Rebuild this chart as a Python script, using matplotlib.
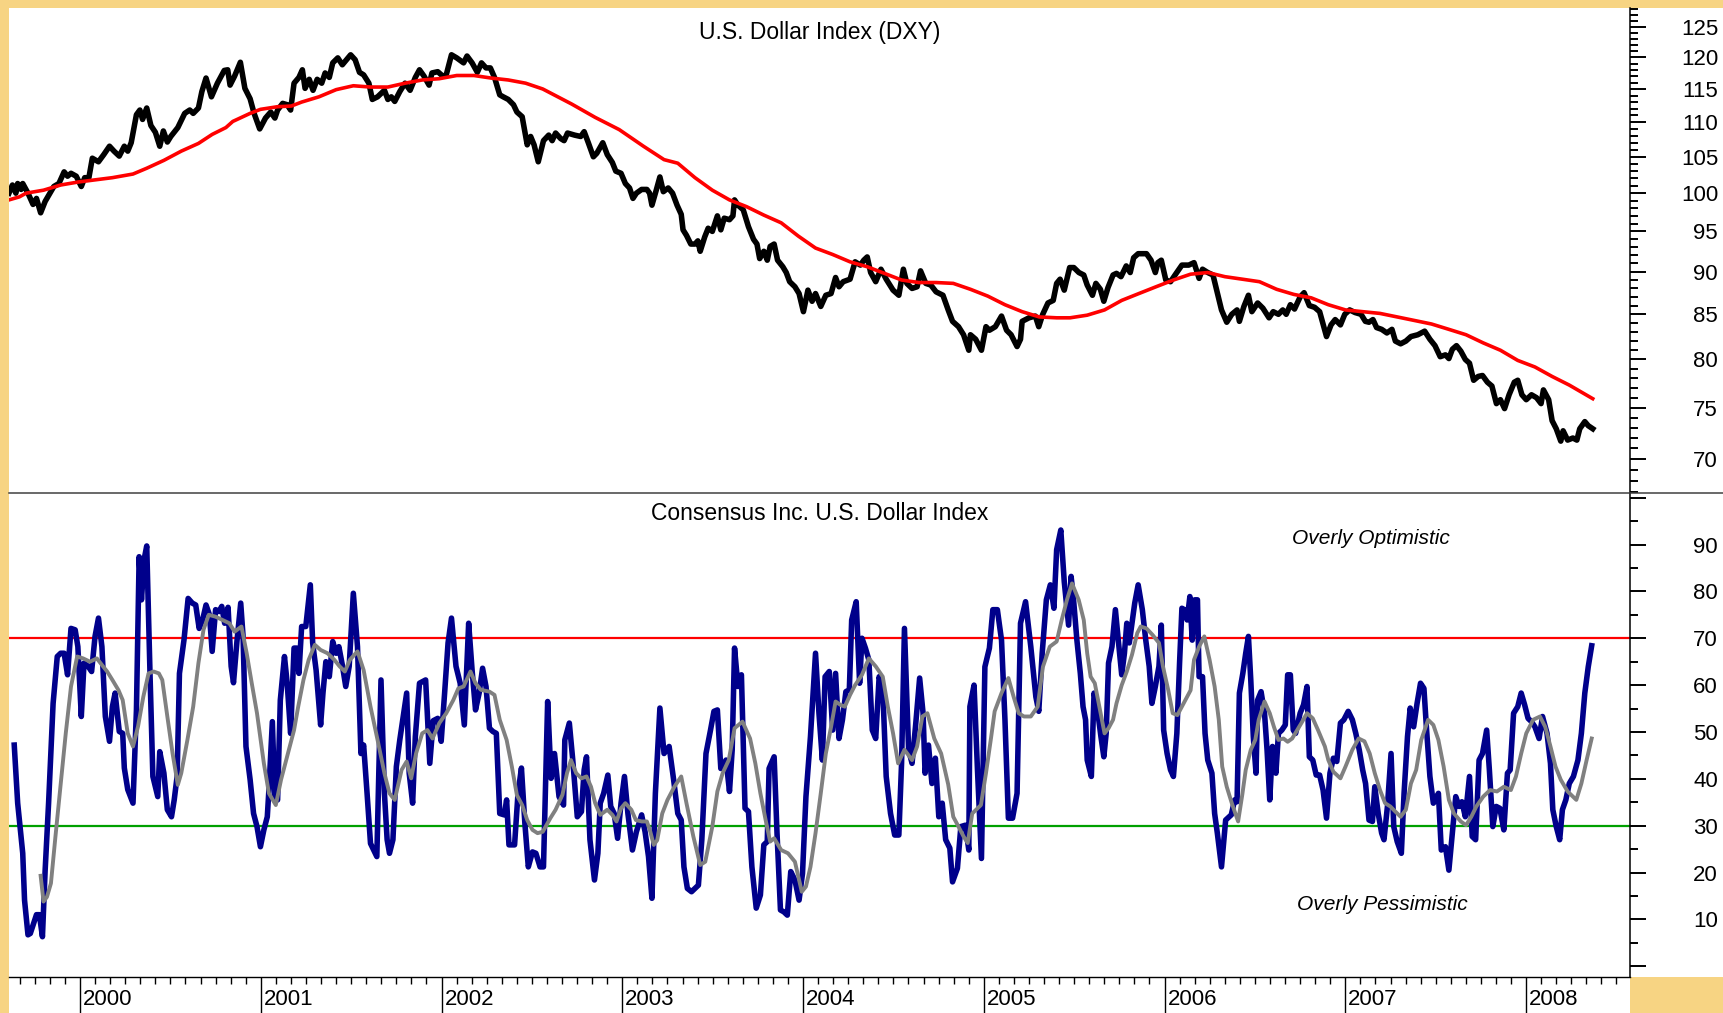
import matplotlib
matplotlib.use("Agg")
import matplotlib.pyplot as plt
from matplotlib.patches import Rectangle
from matplotlib.lines import Line2D
from matplotlib.ticker import NullFormatter
from matplotlib.transforms import blended_transform_factory

plt.rcParams['font.family'] = ['Liberation Sans', 'DejaVu Sans']

# ---- data (decimal years) ----
dxy_t = [
    1999.607, 1999.626, 1999.645, 1999.655, 1999.674, 1999.683, 1999.712, 1999.740, 1999.759, 1999.782,
    1999.807, 1999.855, 1999.883, 1999.912, 1999.931, 1999.950, 1999.979, 2000.007, 2000.026, 2000.049,
    2000.068, 2000.102, 2000.131, 2000.163, 2000.188, 2000.217, 2000.245, 2000.264, 2000.283, 2000.312,
    2000.331, 2000.346, 2000.369, 2000.392, 2000.417, 2000.441, 2000.461, 2000.483, 2000.502, 2000.541,
    2000.579, 2000.607, 2000.626, 2000.655, 2000.674, 2000.697, 2000.727, 2000.760, 2000.798, 2000.817,
    2000.830, 2000.855, 2000.887, 2000.912, 2000.941, 2000.963, 2000.994, 2001.026, 2001.055, 2001.078,
    2001.093, 2001.121, 2001.146, 2001.165, 2001.184, 2001.211, 2001.230, 2001.245, 2001.268, 2001.289,
    2001.312, 2001.337, 2001.356, 2001.379, 2001.398, 2001.426, 2001.451, 2001.474, 2001.497, 2001.522,
    2001.546, 2001.569, 2001.598, 2001.617, 2001.646, 2001.665, 2001.684, 2001.703, 2001.722, 2001.741,
    2001.769, 2001.798, 2001.826, 2001.855, 2001.878, 2001.903, 2001.931, 2001.947, 2001.979, 2002.007,
    2002.026, 2002.055, 2002.084, 2002.122, 2002.141, 2002.169, 2002.198, 2002.221, 2002.246, 2002.270,
    2002.293, 2002.322, 2002.341, 2002.369, 2002.398, 2002.417, 2002.446, 2002.474, 2002.493, 2002.512,
    2002.535, 2002.564, 2002.593, 2002.612, 2002.631, 2002.659, 2002.678, 2002.697, 2002.736, 2002.770,
    2002.789, 2002.812, 2002.840, 2002.859, 2002.892, 2002.917, 2002.945, 2002.964, 2002.993, 2003.017,
    2003.040, 2003.059, 2003.078, 2003.107, 2003.136, 2003.151, 2003.164, 2003.189, 2003.208, 2003.227,
    2003.254, 2003.278, 2003.303, 2003.326, 2003.336, 2003.355, 2003.379, 2003.402, 2003.418, 2003.431,
    2003.456, 2003.475, 2003.498, 2003.526, 2003.545, 2003.564, 2003.593, 2003.612, 2003.621, 2003.640,
    2003.669, 2003.698, 2003.726, 2003.745, 2003.760, 2003.783, 2003.802, 2003.818, 2003.840, 2003.859,
    2003.888, 2003.907, 2003.926, 2003.955, 2003.978, 2004.002, 2004.027, 2004.050, 2004.069, 2004.098,
    2004.126, 2004.155, 2004.180, 2004.199, 2004.222, 2004.260, 2004.288, 2004.317, 2004.336, 2004.355,
    2004.374, 2004.402, 2004.431, 2004.460, 2004.498, 2004.530, 2004.555, 2004.574, 2004.603, 2004.631,
    2004.650, 2004.679, 2004.707, 2004.736, 2004.774, 2004.803, 2004.827, 2004.860, 2004.888, 2004.917,
    2004.926, 2004.955, 2004.987, 2005.012, 2005.031, 2005.064, 2005.098, 2005.126, 2005.151, 2005.184,
    2005.203, 2005.212, 2005.250, 2005.285, 2005.304, 2005.326, 2005.355, 2005.384, 2005.403, 2005.422,
    2005.445, 2005.475, 2005.498, 2005.526, 2005.553, 2005.572, 2005.601, 2005.620, 2005.645, 2005.664,
    2005.687, 2005.715, 2005.734, 2005.759, 2005.788, 2005.810, 2005.829, 2005.854, 2005.900, 2005.925,
    2005.949, 2005.963, 2005.982, 2006.007, 2006.033, 2006.058, 2006.096, 2006.134, 2006.163, 2006.191,
    2006.210, 2006.239, 2006.268, 2006.287, 2006.315, 2006.344, 2006.372, 2006.401, 2006.414, 2006.439,
    2006.464, 2006.483, 2006.515, 2006.544, 2006.578, 2006.601, 2006.630, 2006.654, 2006.673, 2006.696,
    2006.719, 2006.750, 2006.772, 2006.801, 2006.830, 2006.858, 2006.896, 2006.921, 2006.944, 2006.973,
    2006.997, 2007.024, 2007.054, 2007.087, 2007.111, 2007.131, 2007.153, 2007.173, 2007.201, 2007.230,
    2007.258, 2007.277, 2007.306, 2007.335, 2007.363, 2007.401, 2007.439, 2007.468, 2007.496, 2007.525,
    2007.554, 2007.573, 2007.592, 2007.615, 2007.639, 2007.664, 2007.687, 2007.710, 2007.735, 2007.759,
    2007.786, 2007.811, 2007.836, 2007.858, 2007.881, 2007.906, 2007.935, 2007.954, 2007.977, 2008.001,
    2008.030, 2008.058, 2008.083, 2008.096, 2008.125, 2008.144, 2008.167, 2008.192, 2008.205, 2008.230,
    2008.259, 2008.281, 2008.297, 2008.325, 2008.344, 2008.369,
]
dxy_v = [
    100.0, 101.1, 100.0, 101.3, 100.5, 101.3, 100.0, 98.5, 99.3, 97.4,
    98.9, 100.9, 101.3, 102.9, 102.3, 102.7, 102.3, 100.9, 102.1, 102.1,
    104.8, 104.3, 105.3, 106.5, 105.8, 105.1, 106.5, 105.8, 107.0, 111.1,
    111.8, 110.4, 112.1, 109.5, 108.5, 106.5, 108.7, 107.1, 107.9, 109.2,
    111.3, 111.8, 111.3, 112.1, 114.6, 116.7, 113.8, 115.9, 117.9, 118.0,
    115.6, 117.0, 119.2, 115.1, 113.5, 111.3, 109.0, 110.6, 111.5, 110.6,
    111.8, 112.8, 112.6, 111.8, 115.9, 116.8, 118.0, 115.1, 116.5, 114.8,
    116.5, 115.9, 117.5, 116.8, 119.1, 119.9, 118.8, 119.6, 120.4, 119.6,
    117.6, 117.2, 115.9, 113.4, 113.8, 114.3, 114.8, 113.4, 113.8, 113.1,
    114.6, 115.9, 114.8, 116.8, 118.0, 117.0, 115.6, 117.5, 117.7, 117.0,
    117.2, 120.4, 119.9, 119.1, 120.2, 119.1, 117.6, 119.1, 118.3, 118.3,
    116.8, 114.1, 113.8, 113.4, 112.6, 111.5, 110.8, 106.7, 107.9, 106.7,
    104.3, 107.3, 108.1, 107.3, 108.4, 107.6, 107.3, 108.4, 108.1, 107.9,
    108.6, 107.0, 105.0, 105.5, 107.0, 105.3, 104.2, 103.0, 102.7, 101.3,
    100.7, 99.3, 100.0, 100.5, 100.5, 100.0, 98.4, 100.5, 102.2, 100.2,
    100.7, 100.0, 98.4, 97.2, 95.2, 94.5, 93.4, 93.4, 93.8, 92.5,
    94.3, 95.4, 95.0, 97.0, 95.2, 96.7, 96.5, 97.0, 99.1, 98.4,
    97.8, 95.6, 94.0, 93.4, 91.6, 92.5, 91.4, 93.1, 93.4, 91.4,
    90.6, 89.9, 88.8, 88.2, 87.4, 85.3, 87.8, 86.5, 87.4, 85.9,
    87.2, 87.4, 89.3, 88.2, 88.8, 89.1, 91.2, 90.8, 91.4, 91.8,
    89.9, 88.8, 90.3, 89.1, 87.8, 87.2, 90.3, 88.6, 88.0, 88.2,
    90.1, 88.6, 88.4, 87.6, 87.2, 85.5, 84.2, 83.6, 82.7, 81.0,
    82.7, 82.2, 81.0, 83.6, 83.2, 83.6, 84.8, 83.2, 82.7, 81.4,
    82.2, 84.2, 84.6, 84.8, 83.6, 85.0, 86.3, 86.6, 88.6, 89.1,
    87.8, 90.5, 90.5, 89.9, 89.6, 88.4, 87.2, 88.6, 87.9, 86.5,
    88.1, 89.6, 89.8, 89.4, 90.7, 89.9, 91.7, 92.2, 92.2, 91.4,
    89.9, 91.1, 91.4, 89.0, 88.8, 89.6, 90.8, 90.8, 91.1, 89.2,
    90.3, 89.9, 89.6, 87.9, 85.5, 84.1, 85.0, 85.5, 84.2, 85.9,
    87.2, 85.3, 86.3, 85.7, 84.6, 85.3, 85.0, 85.5, 85.0, 86.1,
    85.6, 87.0, 87.5, 86.0, 85.8, 85.3, 82.5, 83.8, 84.4, 83.8,
    85.0, 85.5, 85.2, 85.0, 84.2, 84.1, 84.4, 83.5, 83.3, 82.9,
    83.3, 82.0, 81.7, 82.0, 82.5, 82.7, 83.1, 82.2, 81.5, 80.3,
    80.5, 80.1, 81.1, 81.5, 80.9, 80.0, 79.6, 77.8, 78.2, 78.3,
    77.6, 77.2, 75.4, 75.8, 74.9, 76.3, 77.6, 77.8, 76.3, 75.8,
    76.3, 76.0, 75.4, 76.8, 75.8, 73.7, 72.9, 71.7, 72.7, 71.8,
    72.0, 71.8, 72.9, 73.6, 73.2, 72.9,
]

ma_t = [
    1999.607, 1999.664, 1999.702, 1999.798, 1999.893, 1999.988, 2000.083, 2000.179, 2000.293, 2000.369,
    2000.464, 2000.560, 2000.655, 2000.731, 2000.807, 2000.845, 2000.941, 2000.998, 2001.093, 2001.169,
    2001.226, 2001.322, 2001.417, 2001.512, 2001.607, 2001.703, 2001.798, 2001.893, 2001.988, 2002.084,
    2002.179, 2002.274, 2002.369, 2002.465, 2002.560, 2002.720, 2002.850, 2002.983, 2003.117, 2003.231,
    2003.307, 2003.402, 2003.498, 2003.593, 2003.688, 2003.783, 2003.879, 2003.974, 2004.069, 2004.164,
    2004.260, 2004.355, 2004.450, 2004.545, 2004.641, 2004.736, 2004.831, 2004.926, 2005.022, 2005.117,
    2005.212, 2005.307, 2005.403, 2005.477, 2005.572, 2005.668, 2005.763, 2005.858, 2005.953, 2006.049,
    2006.144, 2006.239, 2006.334, 2006.430, 2006.525, 2006.620, 2006.715, 2006.811, 2006.906, 2007.001,
    2007.096, 2007.192, 2007.287, 2007.382, 2007.477, 2007.573, 2007.668, 2007.763, 2007.858, 2007.954,
    2008.049, 2008.144, 2008.239, 2008.369,
]
ma_v = [
    99.1, 99.5, 100.0, 100.4, 101.1, 101.5, 101.8, 102.1, 102.6, 103.4,
    104.5, 105.8, 106.9, 108.2, 109.2, 110.1, 111.3, 111.9, 112.3, 112.4,
    113.0, 113.8, 114.9, 115.5, 115.3, 115.3, 115.9, 116.4, 116.6, 117.1,
    117.1, 116.7, 116.4, 115.9, 115.0, 112.7, 110.7, 108.9, 106.5, 104.6,
    104.1, 102.1, 100.4, 99.1, 98.2, 97.1, 96.1, 94.4, 92.9, 92.1,
    91.2, 90.6, 89.8, 89.0, 88.7, 88.7, 88.6, 87.9, 87.1, 86.1,
    85.3, 84.7, 84.6, 84.6, 84.9, 85.5, 86.6, 87.4, 88.2, 89.0,
    89.7, 89.9, 89.4, 89.1, 88.8, 87.9, 87.3, 86.9, 86.1, 85.5,
    85.3, 85.1, 84.7, 84.3, 83.9, 83.3, 82.7, 81.8, 81.0, 79.9,
    79.2, 78.2, 77.3, 75.9,
]

cons_t = [
    1999.636, 1999.655, 1999.683, 1999.693, 1999.712, 1999.725, 1999.759, 1999.775, 1999.792, 1999.807,
    1999.826, 1999.851, 1999.874, 1999.893, 1999.912, 1999.931, 1999.950, 1999.973, 1999.988, 2000.007,
    2000.022, 2000.045, 2000.064, 2000.083, 2000.102, 2000.121, 2000.140, 2000.163, 2000.179, 2000.194,
    2000.217, 2000.236, 2000.245, 2000.264, 2000.293, 2000.312, 2000.327, 2000.340, 2000.354, 2000.369,
    2000.388, 2000.403, 2000.430, 2000.441, 2000.464, 2000.483, 2000.506, 2000.521, 2000.537, 2000.550,
    2000.575, 2000.598, 2000.621, 2000.640, 2000.659, 2000.678, 2000.697, 2000.716, 2000.731, 2000.750,
    2000.769, 2000.784, 2000.800, 2000.819, 2000.836, 2000.849, 2000.868, 2000.889, 2000.902, 2000.918,
    2000.941, 2000.960, 2000.979, 2000.998, 2001.017, 2001.036, 2001.045, 2001.064, 2001.078, 2001.093,
    2001.108, 2001.131, 2001.146, 2001.165, 2001.184, 2001.198, 2001.211, 2001.226, 2001.249, 2001.274,
    2001.287, 2001.306, 2001.331, 2001.344, 2001.360, 2001.379, 2001.398, 2001.417, 2001.432, 2001.451,
    2001.470, 2001.489, 2001.512, 2001.535, 2001.554, 2001.569, 2001.588, 2001.607, 2001.642, 2001.665,
    2001.684, 2001.699, 2001.712, 2001.731, 2001.750, 2001.769, 2001.788, 2001.807, 2001.821, 2001.840,
    2001.855, 2001.878, 2001.912, 2001.935, 2001.954, 2001.979, 2001.998, 2002.017, 2002.036, 2002.055,
    2002.080, 2002.103, 2002.126, 2002.150, 2002.169, 2002.188, 2002.208, 2002.227, 2002.246, 2002.265,
    2002.284, 2002.303, 2002.322, 2002.347, 2002.360, 2002.373, 2002.404, 2002.423, 2002.442, 2002.461,
    2002.480, 2002.503, 2002.522, 2002.545, 2002.564, 2002.587, 2002.606, 2002.625, 2002.650, 2002.675,
    2002.682, 2002.707, 2002.726, 2002.751, 2002.774, 2002.789, 2002.802, 2002.821, 2002.846, 2002.865,
    2002.878, 2002.897, 2002.920, 2002.936, 2002.955, 2002.974, 2002.993, 2003.012, 2003.031, 2003.056,
    2003.078, 2003.107, 2003.126, 2003.145, 2003.164, 2003.183, 2003.208, 2003.231, 2003.259, 2003.284,
    2003.307, 2003.326, 2003.341, 2003.360, 2003.383, 2003.421, 2003.440, 2003.463, 2003.488, 2003.507,
    2003.526, 2003.545, 2003.574, 2003.593, 2003.608, 2003.621, 2003.640, 2003.659, 2003.679, 2003.698,
    2003.717, 2003.741, 2003.764, 2003.783, 2003.802, 2003.812, 2003.840, 2003.856, 2003.875, 2003.894,
    2003.913, 2003.932, 2003.955, 2003.978, 2003.997, 2004.016, 2004.041, 2004.069, 2004.088, 2004.107,
    2004.122, 2004.145, 2004.164, 2004.180, 2004.199, 2004.218, 2004.237, 2004.256, 2004.269, 2004.294,
    2004.313, 2004.326, 2004.345, 2004.364, 2004.383, 2004.402, 2004.421, 2004.441, 2004.460, 2004.484,
    2004.507, 2004.530, 2004.545, 2004.561, 2004.584, 2004.603, 2004.622, 2004.645, 2004.664, 2004.675,
    2004.694, 2004.713, 2004.732, 2004.751, 2004.770, 2004.789, 2004.812, 2004.827, 2004.854, 2004.873,
    2004.898, 2004.917, 2004.923, 2004.946, 2004.965, 2004.987, 2005.006, 2005.031, 2005.050, 2005.075,
    2005.098, 2005.117, 2005.136, 2005.159, 2005.184, 2005.203, 2005.231, 2005.260, 2005.288, 2005.304,
    2005.323, 2005.346, 2005.368, 2005.388, 2005.403, 2005.426, 2005.445, 2005.469, 2005.483, 2005.496,
    2005.515, 2005.534, 2005.549, 2005.563, 2005.572, 2005.595, 2005.610, 2005.629, 2005.648, 2005.664,
    2005.677, 2005.690, 2005.709, 2005.728, 2005.744, 2005.763, 2005.778, 2005.791, 2005.805, 2005.820,
    2005.835, 2005.854, 2005.877, 2005.896, 2005.915, 2005.930, 2005.949, 2005.969, 2005.982, 2005.995,
    2006.014, 2006.033, 2006.049, 2006.068, 2006.083, 2006.096, 2006.110, 2006.125, 2006.140, 2006.153,
    2006.167, 2006.182, 2006.191, 2006.210, 2006.224, 2006.239, 2006.262, 2006.277, 2006.292, 2006.315,
    2006.338, 2006.369, 2006.388, 2006.401, 2006.414, 2006.433, 2006.449, 2006.464, 2006.477, 2006.491,
    2006.506, 2006.515, 2006.534, 2006.553, 2006.567, 2006.582, 2006.597, 2006.616, 2006.630, 2006.649,
    2006.668, 2006.681, 2006.696, 2006.712, 2006.725, 2006.750, 2006.769, 2006.788, 2006.801, 2006.820,
    2006.839, 2006.858, 2006.877, 2006.896, 2006.915, 2006.934, 2006.953, 2006.973, 2006.992, 2007.016,
    2007.039, 2007.058, 2007.077, 2007.096, 2007.112, 2007.131, 2007.150, 2007.163, 2007.182, 2007.201,
    2007.214, 2007.233, 2007.253, 2007.268, 2007.287, 2007.310, 2007.325, 2007.344, 2007.359, 2007.378,
    2007.397, 2007.416, 2007.435, 2007.449, 2007.468, 2007.487, 2007.500, 2007.515, 2007.531, 2007.554,
    2007.573, 2007.592, 2007.611, 2007.630, 2007.645, 2007.664, 2007.687, 2007.702, 2007.721, 2007.740,
    2007.759, 2007.782, 2007.797, 2007.816, 2007.835, 2007.855, 2007.877, 2007.897, 2007.912, 2007.931,
    2007.954, 2007.973, 2007.992, 2008.011, 2008.030, 2008.049, 2008.072, 2008.091, 2008.116, 2008.135,
    2008.148, 2008.167, 2008.186, 2008.201, 2008.220, 2008.239, 2008.262, 2008.287, 2008.306, 2008.325,
    2008.344, 2008.363,
]
cons_v = [
    47.2, 34.8, 24.1, 14.1, 6.7, 7.0, 11.0, 11.0, 6.3, 20.5,
    34.8, 56.1, 66.1, 66.8, 66.8, 62.2, 72.1, 71.8, 68.2, 53.3,
    64.7, 64.0, 62.9, 70.4, 74.3, 68.2, 53.3, 48.0, 55.4, 58.3,
    50.1, 49.7, 42.3, 37.7, 34.8, 54.7, 87.4, 78.2, 86.7, 89.7,
    61.1, 40.5, 36.2, 45.8, 41.2, 33.4, 31.9, 35.5, 40.5, 62.5,
    69.6, 78.5, 77.5, 77.1, 72.1, 73.9, 77.1, 75.0, 67.2, 76.1,
    75.7, 76.8, 73.2, 76.6, 64.0, 60.5, 69.3, 77.5, 70.4, 46.9,
    39.8, 32.6, 29.8, 25.5, 29.1, 31.9, 37.7, 52.2, 35.5, 35.5,
    56.8, 66.1, 60.4, 49.7, 67.9, 67.9, 62.5, 72.5, 72.5, 81.4,
    69.0, 63.2, 51.5, 58.3, 65.0, 61.8, 69.3, 66.8, 68.2, 64.3,
    59.7, 64.0, 79.6, 68.2, 45.4, 47.2, 36.9, 26.2, 23.4, 61.1,
    36.9, 27.0, 24.1, 27.0, 42.6, 48.3, 53.3, 58.3, 41.2, 34.8,
    49.0, 60.4, 61.1, 43.3, 52.4, 52.9, 48.0, 58.3, 69.0, 74.3,
    64.0, 60.4, 51.5, 73.2, 63.2, 54.7, 58.3, 63.6, 59.7, 50.8,
    50.1, 49.7, 32.6, 32.3, 35.5, 25.9, 25.9, 36.9, 42.3, 30.5,
    21.2, 24.4, 24.1, 21.2, 21.2, 56.5, 40.1, 45.4, 36.2, 34.4,
    48.3, 51.9, 44.0, 31.9, 33.0, 41.9, 44.7, 27.0, 18.4, 24.1,
    34.8, 36.9, 40.8, 34.1, 32.6, 27.3, 34.8, 40.5, 32.6, 24.8,
    28.7, 32.3, 28.7, 23.4, 14.5, 36.9, 55.1, 45.4, 46.9, 39.8,
    32.6, 31.2, 21.2, 16.6, 15.9, 17.3, 27.0, 45.4, 50.4, 54.4,
    54.7, 42.2, 44.0, 37.3, 46.2, 67.9, 59.7, 62.2, 33.7, 33.0,
    21.2, 12.4, 15.2, 25.9, 26.6, 42.2, 44.7, 28.4, 12.0, 11.6,
    10.9, 20.2, 18.4, 14.1, 19.8, 36.2, 49.0, 66.8, 54.0, 44.0,
    61.8, 62.9, 50.4, 62.5, 48.6, 52.6, 58.6, 59.0, 73.9, 77.8,
    60.4, 70.0, 67.9, 65.4, 50.4, 48.6, 61.8, 59.0, 40.5, 32.6,
    28.0, 28.0, 43.3, 72.1, 46.2, 43.3, 51.1, 61.5, 54.0, 41.2,
    47.2, 39.0, 44.4, 31.9, 34.8, 27.0, 25.2, 18.0, 20.9, 29.8,
    30.1, 24.8, 55.4, 60.0, 41.9, 23.0, 63.9, 67.9, 76.1, 76.1,
    69.6, 52.6, 31.6, 31.6, 36.9, 73.2, 77.8, 68.2, 57.5, 54.4,
    66.8, 78.2, 81.4, 76.4, 88.9, 93.1, 82.1, 72.8, 83.2, 78.5,
    69.6, 62.5, 55.4, 52.6, 44.0, 40.5, 58.3, 54.7, 49.0, 44.7,
    49.7, 64.7, 68.2, 76.1, 69.6, 62.2, 66.8, 73.2, 69.0, 73.2,
    77.5, 81.4, 76.1, 69.6, 64.0, 56.1, 59.7, 64.0, 72.8, 50.4,
    45.4, 41.9, 40.5, 49.7, 64.7, 76.4, 76.1, 73.9, 78.9, 69.6,
    78.2, 78.2, 61.8, 61.8, 49.7, 44.0, 41.2, 32.6, 28.4, 21.2,
    31.2, 32.3, 35.5, 35.1, 58.3, 62.5, 66.8, 70.4, 61.1, 49.0,
    41.2, 56.8, 58.6, 54.0, 46.2, 35.5, 46.9, 41.2, 49.7, 50.4,
    51.5, 62.2, 62.2, 50.4, 49.7, 54.0, 55.8, 59.7, 44.7, 44.0,
    40.8, 40.8, 37.6, 31.6, 41.2, 44.4, 43.7, 51.9, 52.6, 54.4,
    52.6, 49.7, 46.2, 41.9, 39.0, 31.2, 30.9, 38.3, 32.6, 28.4,
    27.0, 34.1, 45.4, 29.8, 26.6, 24.1, 36.9, 49.0, 55.1, 51.1,
    56.1, 60.4, 59.3, 50.8, 40.5, 34.8, 35.5, 36.9, 24.8, 25.5,
    20.5, 28.4, 36.2, 34.1, 35.1, 31.9, 40.5, 27.7, 27.0, 44.0,
    45.4, 50.4, 41.9, 29.8, 34.1, 33.7, 29.1, 41.2, 41.9, 54.0,
    55.4, 58.3, 55.8, 52.9, 52.2, 51.1, 48.6, 53.3, 49.7, 43.3,
    33.4, 29.8, 27.0, 33.4, 35.5, 39.0, 40.5, 44.0, 49.7, 58.3,
    63.9, 68.4,
]

avg_t = [
    1999.782, 1999.798, 1999.817, 1999.839, 1999.864, 1999.893, 1999.921, 1999.950, 1999.984, 2000.017,
    2000.055, 2000.093, 2000.121, 2000.150, 2000.179, 2000.213, 2000.236, 2000.264, 2000.293, 2000.321,
    2000.350, 2000.379, 2000.407, 2000.436, 2000.455, 2000.483, 2000.512, 2000.541, 2000.560, 2000.594,
    2000.626, 2000.655, 2000.683, 2000.712, 2000.750, 2000.788, 2000.826, 2000.855, 2000.893, 2000.922,
    2000.950, 2000.979, 2001.017, 2001.045, 2001.083, 2001.112, 2001.150, 2001.184, 2001.207, 2001.236,
    2001.265, 2001.299, 2001.331, 2001.369, 2001.407, 2001.436, 2001.465, 2001.493, 2001.535, 2001.569,
    2001.607, 2001.646, 2001.684, 2001.712, 2001.741, 2001.779, 2001.807, 2001.832, 2001.859, 2001.893,
    2001.922, 2001.950, 2001.988, 2002.026, 2002.065, 2002.093, 2002.122, 2002.160, 2002.188, 2002.217,
    2002.265, 2002.293, 2002.322, 2002.360, 2002.389, 2002.417, 2002.446, 2002.474, 2002.503, 2002.531,
    2002.560, 2002.602, 2002.631, 2002.669, 2002.694, 2002.716, 2002.745, 2002.774, 2002.802, 2002.827,
    2002.850, 2002.878, 2002.917, 2002.945, 2002.968, 2002.993, 2003.017, 2003.050, 2003.075, 2003.107,
    2003.136, 2003.155, 2003.174, 2003.193, 2003.221, 2003.250, 2003.288, 2003.326, 2003.355, 2003.393,
    2003.431, 2003.459, 2003.498, 2003.526, 2003.555, 2003.589, 2003.621, 2003.665, 2003.707, 2003.736,
    2003.764, 2003.793, 2003.818, 2003.840, 2003.879, 2003.917, 2003.955, 2003.993, 2004.016, 2004.041,
    2004.069, 2004.098, 2004.126, 2004.155, 2004.180, 2004.206, 2004.231, 2004.260, 2004.288, 2004.326,
    2004.364, 2004.402, 2004.441, 2004.469, 2004.498, 2004.526, 2004.561, 2004.603, 2004.631, 2004.660,
    2004.688, 2004.726, 2004.764, 2004.803, 2004.831, 2004.860, 2004.888, 2004.911, 2004.936, 2004.984,
    2005.012, 2005.041, 2005.060, 2005.098, 2005.136, 2005.165, 2005.193, 2005.222, 2005.260, 2005.298,
    2005.327, 2005.365, 2005.403, 2005.431, 2005.460, 2005.488, 2005.525, 2005.553, 2005.572, 2005.591,
    2005.614, 2005.639, 2005.668, 2005.690, 2005.715, 2005.734, 2005.763, 2005.791, 2005.820, 2005.849,
    2005.868, 2005.900, 2005.934, 2005.969, 2005.991, 2006.020, 2006.045, 2006.071, 2006.096, 2006.125,
    2006.144, 2006.163, 2006.191, 2006.220, 2006.249, 2006.277, 2006.300, 2006.319, 2006.344, 2006.372,
    2006.407, 2006.430, 2006.449, 2006.477, 2006.502, 2006.521, 2006.553, 2006.582, 2006.605, 2006.630,
    2006.658, 2006.681, 2006.706, 2006.734, 2006.757, 2006.788, 2006.820, 2006.849, 2006.887, 2006.906,
    2006.934, 2006.973, 2007.001, 2007.039, 2007.074, 2007.106, 2007.135, 2007.163, 2007.192, 2007.220,
    2007.249, 2007.277, 2007.306, 2007.335, 2007.363, 2007.392, 2007.420, 2007.458, 2007.487, 2007.515,
    2007.544, 2007.573, 2007.601, 2007.639, 2007.668, 2007.697, 2007.725, 2007.763, 2007.801, 2007.839,
    2007.877, 2007.916, 2007.944, 2007.973, 2008.001, 2008.039, 2008.077, 2008.106, 2008.135, 2008.163,
    2008.192, 2008.230, 2008.278, 2008.306, 2008.335, 2008.363,
]
avg_v = [
    19.3, 13.8, 14.8, 17.7, 27.7, 39.0, 49.7, 59.7, 66.1, 65.7,
    65.0, 65.7, 64.3, 62.9, 61.1, 58.9, 56.8, 49.7, 46.9, 51.2,
    57.5, 62.5, 62.9, 62.5, 61.1, 53.3, 45.4, 38.7, 41.2, 48.3,
    55.4, 64.7, 71.8, 75.0, 74.6, 73.9, 73.2, 71.4, 72.5, 66.8,
    60.4, 54.0, 43.3, 36.9, 34.4, 39.8, 45.4, 50.4, 55.4, 61.1,
    65.4, 68.6, 67.5, 66.8, 65.4, 64.0, 62.9, 65.4, 67.2, 63.2,
    55.4, 48.3, 41.2, 36.9, 35.5, 41.9, 43.7, 40.1, 45.4, 49.7,
    50.4, 48.6, 51.9, 54.0, 56.8, 59.3, 59.7, 62.9, 60.4, 59.0,
    58.6, 57.9, 52.6, 48.3, 42.6, 36.5, 34.4, 31.2, 29.1, 28.4,
    28.7, 31.6, 33.4, 36.6, 41.2, 44.0, 41.2, 40.1, 40.5, 38.3,
    34.8, 32.3, 33.4, 32.3, 30.9, 33.7, 34.8, 33.4, 31.2, 30.9,
    30.9, 28.7, 25.9, 26.9, 32.6, 35.5, 38.3, 40.5, 34.8, 27.7,
    21.6, 22.3, 29.8, 37.3, 41.2, 44.0, 50.8, 52.2, 48.6, 43.3,
    36.9, 31.2, 26.6, 27.3, 24.8, 24.1, 22.3, 15.9, 17.0, 21.2,
    28.4, 36.9, 45.4, 51.1, 56.5, 55.8, 55.4, 57.9, 60.0, 62.2,
    65.7, 64.0, 61.8, 55.4, 49.7, 43.3, 46.2, 44.0, 46.9, 53.3,
    54.0, 48.6, 45.4, 38.8, 31.9, 29.8, 27.7, 26.3, 32.6, 34.4,
    41.2, 49.0, 54.4, 58.3, 61.5, 57.5, 54.0, 53.3, 53.3, 55.4,
    63.9, 68.2, 69.3, 73.9, 78.2, 81.7, 78.2, 73.9, 66.8, 61.8,
    60.4, 55.4, 49.7, 50.8, 52.6, 56.1, 60.0, 62.9, 66.5, 71.1,
    72.5, 72.1, 70.7, 69.0, 64.0, 59.0, 54.0, 53.6, 55.4, 57.5,
    58.9, 65.4, 68.2, 70.4, 65.4, 59.7, 52.6, 42.6, 38.3, 34.8,
    30.9, 36.6, 41.9, 46.2, 48.3, 52.6, 56.5, 54.0, 51.1, 48.3,
    48.6, 47.9, 48.6, 50.4, 51.9, 54.0, 52.9, 50.4, 46.9, 44.0,
    41.5, 40.1, 42.6, 46.2, 48.6, 48.0, 45.4, 41.2, 37.6, 34.8,
    34.1, 33.0, 31.9, 33.4, 39.0, 41.9, 48.3, 52.6, 51.5, 48.3,
    42.6, 35.5, 32.6, 30.9, 30.1, 31.9, 34.1, 36.2, 37.6, 37.3,
    38.3, 37.6, 40.5, 45.4, 49.7, 52.6, 53.3, 51.1, 46.9, 42.6,
    39.8, 37.3, 35.5, 39.0, 44.0, 48.6,
]

years = list(range(2000, 2009))
dxy_ticks = [70, 75, 80, 85, 90, 95, 100, 105, 110, 115, 120, 125]
cons_ticks = [0, 10, 20, 30, 40, 50, 60, 70, 80, 90, 100]
cons_labels = ['', '10', '20', '30', '40', '50', '60', '70', '80', '90', '']

ORANGE = '#F7D483'
W, H = 1724, 1013

fig = plt.figure(figsize=(W / 100, H / 100), dpi=100)
fig.patch.set_facecolor('white')

# orange frame bits
fig.add_artist(Rectangle((0, 1 - 8 / H), 1, 8 / H, transform=fig.transFigure,
                         facecolor=ORANGE, edgecolor='none', zorder=0))
fig.add_artist(Rectangle((0, 0), 9 / W, 1, transform=fig.transFigure,
                         facecolor=ORANGE, edgecolor='none', zorder=0))
fig.add_artist(Rectangle((1630 / W, 0), (W - 1630) / W, 36 / H, transform=fig.transFigure,
                         facecolor=ORANGE, edgecolor='none', zorder=0))

ax1 = fig.add_axes([9 / W, (H - 493) / H, 1621 / W, 485 / H])
ax2 = fig.add_axes([9 / W, (H - 977) / H, 1621 / W, 484 / H])

x_lo, x_hi = 1999.607, 2008.575

# ---- top panel: DXY ----
ax1.plot(dxy_t, dxy_v, color='black', lw=4.0, solid_joinstyle='round', zorder=3)
ax1.plot(ma_t, ma_v, color='#ff0000', lw=2.6, zorder=4)
ax1.set_yscale('log')
ax1.set_ylim(66.88, 128.2)
ax1.set_xlim(x_lo, x_hi)
ax1.set_xticks([])
ax1.yaxis.tick_right()
ax1.set_yticks(dxy_ticks)
ax1.set_yticklabels([str(v) for v in dxy_ticks])
ax1.set_yticks([v for v in range(67, 129) if v % 5 != 0], minor=True)
ax1.yaxis.set_minor_formatter(NullFormatter())
ax1.text(0.5, 1 - 24 / 485, 'U.S. Dollar Index (DXY)', transform=ax1.transAxes,
         ha='center', va='center', fontsize=16.5)

# ---- bottom panel: sentiment ----
ax2.axhline(70, color='#ff0000', lw=1.6, zorder=1)
ax2.axhline(30, color='#00a000', lw=1.6, zorder=1)
ax2.plot(cons_t, cons_v, color='#00008b', lw=4.0, solid_joinstyle='round', zorder=3)
ax2.plot(avg_t, avg_v, color='#808080', lw=2.8, solid_joinstyle='round', zorder=4)
ax2.set_ylim(-2.3, 101.0)
ax2.set_xlim(x_lo, x_hi)
ax2.yaxis.tick_right()
ax2.set_yticks(cons_ticks)
ax2.set_yticklabels(cons_labels)
ax2.set_yticks(list(range(5, 100, 10)), minor=True)
ax2.text(0.5, 1 - 20.5 / 484, 'Consensus Inc. U.S. Dollar Index', transform=ax2.transAxes,
         ha='center', va='center', fontsize=16.5)
ax2.text(0.840, 0.905, 'Overly Optimistic', transform=ax2.transAxes,
         ha='center', va='center', fontsize=15, style='italic')
ax2.text(0.847, 0.149, 'Overly Pessimistic', transform=ax2.transAxes,
         ha='center', va='center', fontsize=15, style='italic')

ax2.set_xticks(years)
ax2.set_xticklabels([])
ax2.set_xticks([y + m / 12 for y in range(1999, 2009) for m in range(1, 12)
                if x_lo < y + m / 12 < x_hi], minor=True)
ax2.tick_params(axis='x', which='major', direction='out', length=26, width=1.0)
ax2.tick_params(axis='x', which='minor', direction='out', length=5, width=1.0)
tr = blended_transform_factory(ax2.transData, ax2.transAxes)
for y in years:
    ax2.text(y + 3 / 180.75, -0.0455, str(y), transform=tr, ha='left', va='center', fontsize=16)

for ax in (ax1, ax2):
    ax.set_facecolor('none')
    ax.spines['left'].set_visible(False)
    ax.spines['top'].set_visible(False)
    ax.spines['right'].set_linewidth(1.1)
    ax.tick_params(axis='y', which='major', direction='out', length=11.5, width=1.4,
                   labelsize=16, pad=51.9, right=True, left=False,
                   labelright=True, labelleft=False)
    ax.tick_params(axis='y', which='minor', direction='out', length=5.8, width=1.4,
                   right=True, left=False)
    for lab in ax.get_yticklabels():
        lab.set_horizontalalignment('right')
ax1.spines['bottom'].set_visible(False)
ax2.spines['bottom'].set_linewidth(1.0)

# separator running into the label margin
fig.add_artist(Line2D([9 / W, 1], [(H - 493) / H] * 2, transform=fig.transFigure,
                      color='#404040', lw=1.1))

fig.savefig('out.png', dpi=100)
